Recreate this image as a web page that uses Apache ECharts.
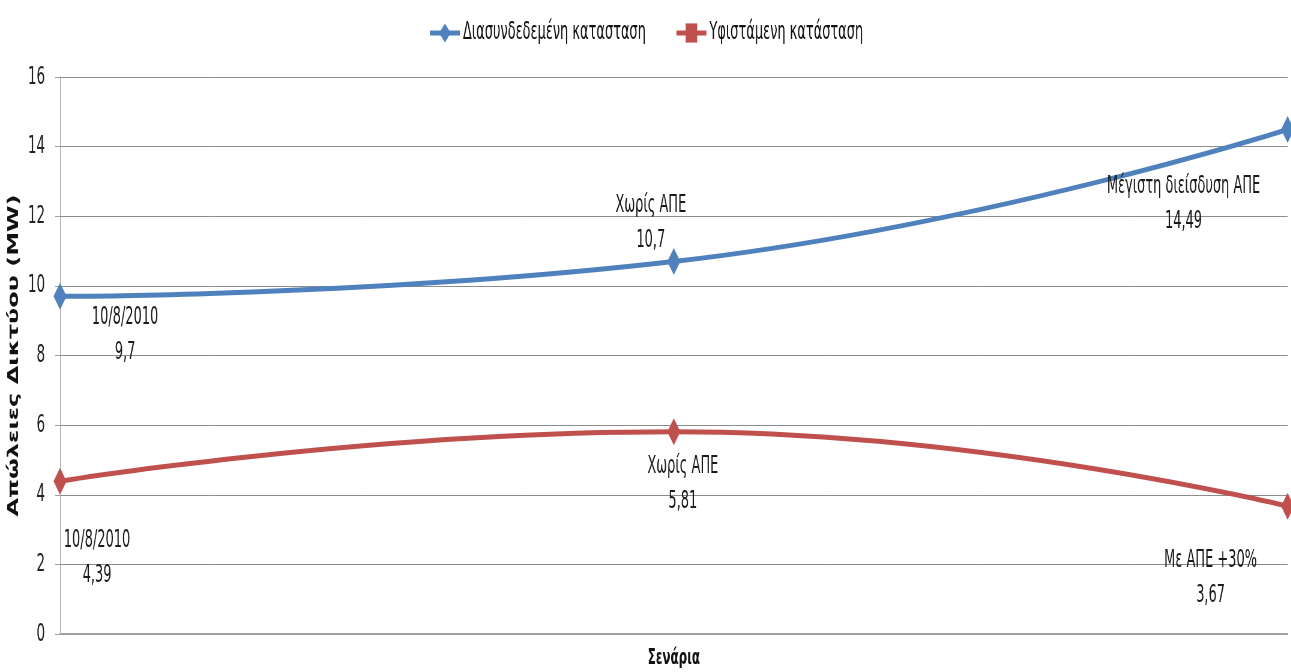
<!DOCTYPE html>
<html><head><meta charset="utf-8">
<script src="https://cdn.jsdelivr.net/npm/echarts@6/dist/echarts.min.js"></script>
<style>html,body{margin:0;padding:0;background:#fff;overflow:hidden;width:1291px;height:672px}
#c{height:672px;transform-origin:0 0}</style>
</head><body><div id="c"></div>
<script>
const categories = ['10/8/2010', 'Χωρίς ΑΠΕ', 'Τελικό σενάριο'];
const seriesNames = ['Διασυνδεδεμένη κατασταση', 'Υφιστάμενη κατάσταση'];
const blueValues = [9.7, 10.7, 14.49];
const redValues = [4.39, 5.81, 3.67];
const blueLabels = ['10/8/2010', 'Χωρίς ΑΠΕ', 'Μέγιστη διείσδυση ΑΠΕ'];
const redLabels = ['10/8/2010', 'Χωρίς ΑΠΕ', 'Με ΑΠΕ +30%'];
const yTicks = { min: 0, max: 16, interval: 2 };

// horizontal squeeze of the original picture
const S = 0.6;
const W = 1291 / S;
const el = document.getElementById('c');
el.style.width = W + 'px';
el.style.transform = 'scaleX(' + S + ')';

// label offsets in output pixels (converted to inner coordinates)
const blueOffsets = [[65, 39], [-23, -38], [-104, 75]];
const redOffsets = [[37, 77], [9, 53], [-77, 72]];

const FONT = "'DejaVu Sans Condensed', 'DejaVu Sans', sans-serif";
const fmt = v => String(v).replace('.', ',');

function mk(values, labels, offsets, sym) {
  return values.map((v, i) => ({
    value: v,
    symbol: sym,
    label: {
      show: true, position: 'inside', offset: [offsets[i][0] / S, offsets[i][1]],
      formatter: labels[i] + '\n' + fmt(v),
      fontFamily: FONT, fontSize: 24, color: '#1a1a1a', lineHeight: 35, align: 'center'
    }
  }));
}

const chart = echarts.init(el, null, { renderer: 'canvas', width: W, height: 672 });
chart.setOption({
  backgroundColor: '#fff',
  animation: false,
  legend: {
    top: 16, left: 'center', itemWidth: 30 / S, itemHeight: 24, itemGap: 29 / S,
    textStyle: { fontFamily: FONT, fontSize: 24, color: '#111' },
    lineStyle: { width: 5 },
    data: [seriesNames[0], seriesNames[1]]
  },
  grid: { left: 60 / S, right: 4 / S, top: 77, bottom: 38, containLabel: false, outerBoundsMode: 'none' },
  xAxis: {
    type: 'category', data: categories, boundaryGap: false,
    name: 'Σενάρια', nameLocation: 'middle', nameGap: 13,
    nameTextStyle: { fontFamily: FONT, fontSize: 22, fontWeight: 'bold', color: '#111' },
    axisLine: { lineStyle: { color: '#a0a0a0', width: 2 } },
    axisTick: { show: false }, axisLabel: { show: false }, splitLine: { show: false }
  },
  yAxis: {
    type: 'value', min: yTicks.min, max: yTicks.max, interval: yTicks.interval,
    name: 'Απώλειες Δικτύου (MW)', nameLocation: 'middle', nameGap: 32 / S,
    nameTextStyle: { fontFamily: "'DejaVu Sans', sans-serif", fontSize: 24, fontWeight: 'bold', color: '#111' },
    axisLine: { show: true, lineStyle: { color: '#a0a0a0', width: 1 } },
    axisTick: { show: true, length: 5 / S, lineStyle: { color: '#a0a0a0' } },
    axisLabel: { fontFamily: FONT, fontSize: 25, color: '#222', margin: 15 / S },
    splitLine: { lineStyle: { color: '#8c8c8c', width: 1 } }
  },
  series: [
    {
      name: seriesNames[0], type: 'line', smooth: true, data: mk(blueValues, blueLabels, blueOffsets, 'diamond'),
      symbol: 'diamond', symbolSize: [13 / S, 27], color: '#4F81BD',
      lineStyle: { width: 5, color: '#4F81BD' }, itemStyle: { color: '#4F81BD' }
    },
    {
      name: seriesNames[1], type: 'line', smooth: true, data: mk(redValues, redLabels, redOffsets, 'diamond'),
      symbol: 'rect', symbolSize: [13 / S, 27], color: '#C0504D',
      lineStyle: { width: 5, color: '#C0504D' }, itemStyle: { color: '#C0504D' }
    }
  ]
});
</script></body></html>
